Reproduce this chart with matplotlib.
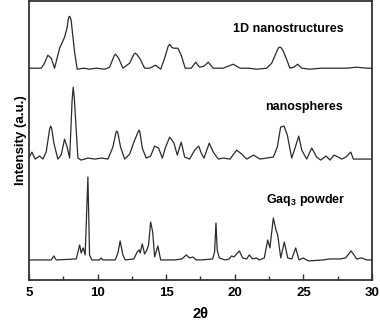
import matplotlib
matplotlib.use("Agg")
import matplotlib.pyplot as plt
from matplotlib.ticker import MultipleLocator

plt.rcParams["font.family"] = ["Liberation Sans", "DejaVu Sans"]
plt.rcParams["mathtext.fontset"] = "custom"
plt.rcParams["mathtext.bf"] = "Liberation Sans:bold"
plt.rcParams["mathtext.rm"] = "Liberation Sans:bold"

# traces (2theta, stacked intensity in a.u.)
nano1d_x = [5.05, 5.42, 5.90, 6.14, 6.38, 6.63, 6.87, 7.24, 7.60, 7.79, 7.87, 7.94,
            8.01, 8.08, 8.33, 8.52, 9.0, 9.4, 9.9, 10.52, 10.88, 11.20, 11.29, 11.38,
            11.54, 11.85, 12.34, 12.65, 12.75, 12.85, 13.07, 13.43, 13.80, 14.23,
            14.60, 14.89, 15.15, 15.26, 15.40, 15.55, 15.86, 16.10, 16.39, 16.83,
            17.15, 17.44, 17.75, 18.07, 18.43, 19.16, 19.89, 20.38, 21.0, 21.6,
            22.32, 22.69, 23.10, 23.22, 23.34, 23.50, 23.66, 24.02, 24.31, 24.58,
            24.88, 25.48, 26.3, 27.18, 28.16, 28.88, 29.61, 29.98]
nano1d_y = [212, 212, 212, 217, 225, 222, 212, 232, 243, 253, 261, 264,
            263, 260, 228, 211, 212, 211, 212, 211, 213, 224, 226, 225,
            222, 212, 217, 226, 227, 226, 222, 212, 212, 215,
            211, 222, 234, 236, 233, 232, 232, 225, 212, 212,
            218, 213, 214, 218, 212, 212, 216, 212, 212, 211,
            212, 217, 230, 233, 233, 230, 225, 212, 213, 216,
            212, 211, 212, 212, 212, 213, 212, 212]

spheres_x = [5.00, 5.22, 5.46, 5.78, 6.02, 6.26, 6.50, 6.58, 6.66, 6.82, 7.11, 7.35,
             7.60, 7.79, 7.97, 8.15, 8.23, 8.31, 8.45, 8.57, 8.81, 9.30, 9.8, 10.3,
             10.76, 11.12, 11.35, 11.41, 11.47, 11.68, 11.98, 12.34, 12.65, 12.95,
             13.02, 13.09, 13.26, 13.55, 13.87, 14.16, 14.45, 14.72, 14.96, 15.26,
             15.57, 15.81, 16.10, 16.35, 16.71, 17.08, 17.37, 17.56, 17.76, 18.14,
             18.43, 18.80, 19.16, 19.65, 20.14, 20.50, 20.87, 21.36, 21.84, 22.3,
             22.81, 23.10, 23.34, 23.59, 23.83, 24.15, 24.39, 24.66, 24.88, 25.24,
             25.61, 25.97, 26.26, 26.65, 26.94, 27.23, 27.54, 27.79, 28.10, 28.45,
             28.64, 29.13, 29.98]
spheres_y = [122, 128, 121, 124, 121, 128, 150, 154, 152, 137, 121, 125,
             141, 133, 122, 180, 193, 182, 150, 122, 120, 122, 121, 122,
             121, 133, 148, 149, 148, 133, 121, 126, 138, 148,
             150, 148, 132, 122, 124, 134, 132, 122, 133, 143,
             137, 125, 138, 123, 121, 130, 134, 127, 122, 137,
             128, 121, 122, 121, 130, 126, 121, 125, 121, 122,
             123, 133, 153, 154, 145, 122, 132, 144, 130, 121,
             132, 123, 120, 124, 120, 125, 123, 121, 123, 128,
             121, 121, 121]

powder_x = [5.00, 6.63, 6.82, 6.99, 8.45, 8.70, 8.81, 8.96, 9.10, 9.30, 9.42, 9.59,
            10.15, 10.27, 10.39, 11.29, 11.49, 11.65, 11.85, 12.02, 12.65, 12.89,
            13.04, 13.11, 13.26, 13.43, 13.60, 13.72, 13.87, 14.02, 14.16, 14.40,
            14.60, 15.62, 16.15, 16.47, 16.71, 16.95, 17.19, 17.56, 18.39, 18.53,
            18.63, 18.72, 18.87, 19.29, 19.60, 19.77, 19.94, 20.33, 20.58, 20.87,
            21.06, 21.30, 21.55, 21.79, 22.15, 22.40, 22.56, 22.81, 23.00, 23.13,
            23.35, 23.61, 23.86, 24.15, 24.44, 24.68, 24.99, 25.36, 26.45, 26.94,
            27.67, 28.08, 28.47, 28.69, 28.88, 29.24, 29.61, 29.98]
powder_y = [20, 20, 24, 20, 21, 35, 27, 32, 25, 103, 25, 20,
            20, 22, 20, 20, 27, 39, 25, 20, 21, 28,
            30, 27, 36, 26, 30, 35, 58, 48, 23, 34,
            20, 20, 21, 25, 22, 23, 20, 20, 21, 28,
            57, 30, 22, 20, 21, 24, 23, 29, 22, 21,
            25, 21, 22, 20, 22, 40, 32, 62, 50, 45,
            22, 38, 22, 21, 32, 20, 22, 19, 20, 21,
            21, 22, 29, 25, 21, 22, 20, 20]

labels = ["1D nanostructures", "nanospheres", r"Gaq$_{\mathbf{3}}$ powder"]
label_x = [23.93, 25.08, 25.18]
label_y = [251, 173, 80]

fig = plt.figure(figsize=(3.8, 3.21), dpi=100)
ax = fig.add_axes([0.076, 0.128, 0.903, 0.868])

for xs, ys in [(nano1d_x, nano1d_y), (spheres_x, spheres_y), (powder_x, powder_y)]:
    ax.plot(xs, ys, color="#2b2b2b", lw=0.9)

for txt, lx, ly in zip(labels, label_x, label_y):
    ax.text(lx, ly, txt, ha="center", va="center", fontsize=9, fontweight="bold")

ax.set_xlim(5, 30)
ax.set_ylim(0, 279)
ax.xaxis.set_major_locator(MultipleLocator(5))
ax.xaxis.set_minor_locator(MultipleLocator(2.5))
ax.tick_params(axis="x", which="both", direction="in", width=1, colors="#333333",
               labelcolor="black", labelsize=9.5, pad=5)
ax.tick_params(axis="x", which="major", length=4)
ax.tick_params(axis="x", which="minor", length=3)
ax.set_yticks([])
for lab in ax.get_xticklabels():
    lab.set_fontweight("bold")
for s in ax.spines.values():
    s.set_linewidth(1.3)
    s.set_color("#333333")

ax.set_xlabel("2θ", fontsize=10.5, fontweight="bold", labelpad=6)
ax.set_ylabel("Intensity (a.u.)", fontsize=9.5, fontweight="bold", labelpad=1)

fig.savefig("out.png", dpi=100)
